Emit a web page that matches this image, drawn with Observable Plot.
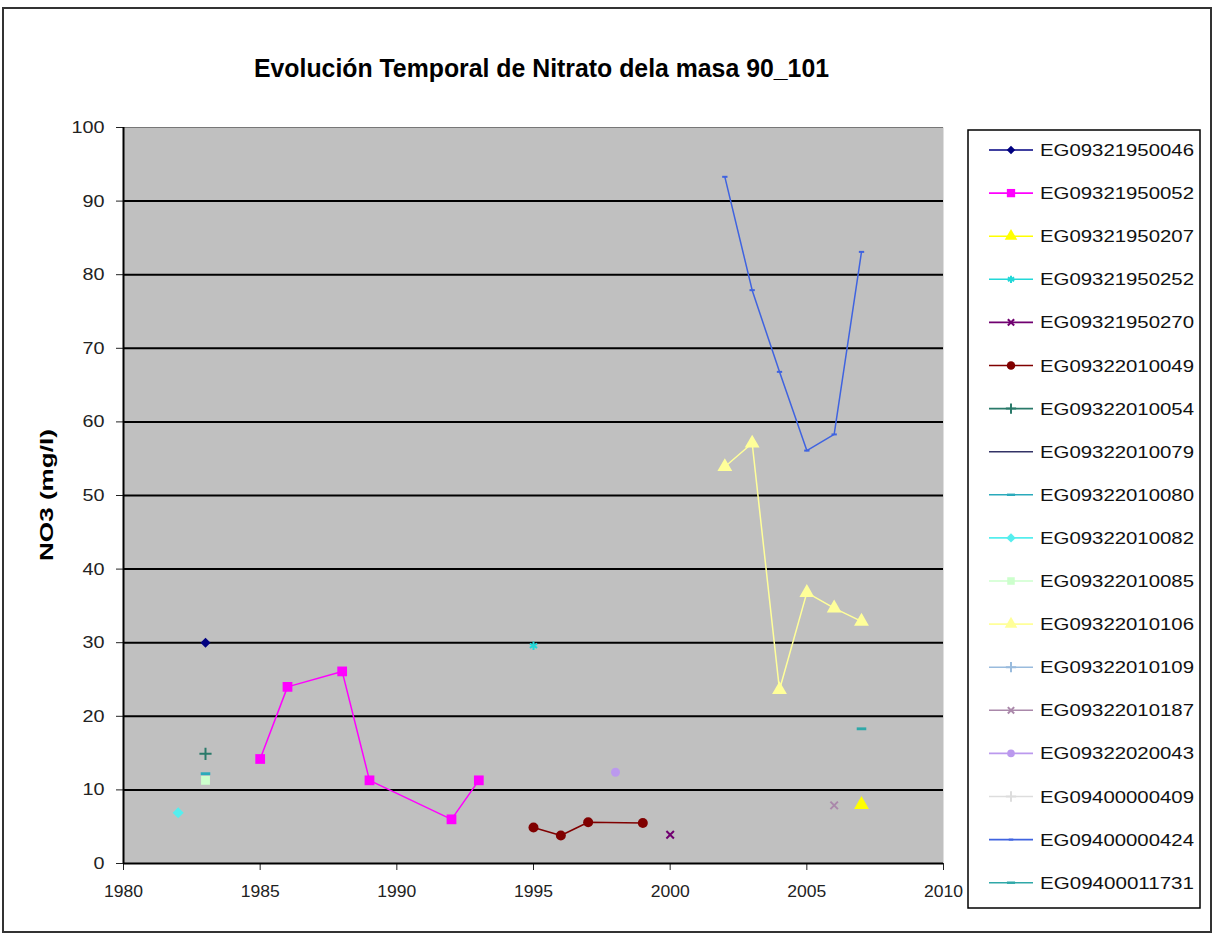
<!DOCTYPE html>
<html><head><meta charset="utf-8">
<script src="https://cdn.jsdelivr.net/npm/d3@7"></script>
<script src="https://cdn.jsdelivr.net/npm/@observablehq/plot@0.6"></script>
<style>
body{margin:0;background:#fff;}
#wrap{position:relative;width:1215px;height:943px;overflow:hidden;background:#fff;}
#frame{position:absolute;left:2px;top:7px;width:1206px;height:922px;border:2px solid #333;}
.abs{position:absolute;left:0;top:0;}
</style></head><body>
<div id="wrap"><div id="frame"></div></div>
<script>
// ---- data ----
const titleText = "Evolución Temporal de Nitrato dela masa 90_101";
const yLabel = "NO3 (mg/l)";
const xTicks = [1980, 1985, 1990, 1995, 2000, 2005, 2010];
const yTicks = [0, 10, 20, 30, 40, 50, 60, 70, 80, 90, 100];

const seriesNames = ["EG09321950046","EG09321950052","EG09321950207","EG09321950252","EG09321950270",
  "EG09322010049","EG09322010054","EG09322010079","EG09322010080","EG09322010082","EG09322010085",
  "EG09322010106","EG09322010109","EG09322010187","EG09322020043","EG09400000409","EG09400000424","EG09400011731"];
const seriesColors = ["#000080","#ff00ff","#ffff00","#22d8d8","#700070",
  "#800000","#2a7a6a","#333366","#2aaabb","#55eeee","#ccffcc",
  "#ffff99","#99bbdd","#aa88aa","#bb99ee","#dddddd","#3f63e0","#2fa8a8"];
const seriesSymbols = ["diamond","square","triangle","asterisk","times",
  "circle","plus","none","dash","diamond","square",
  "triangle","plus","times","circle","plus","dash","dash"];
const seriesMarkerR = [4.5,5.5,5.5,4,3.5, 5,4,0,4.5,5,5, 5.5,4,3.5,4.5,4,2.5,4.5];

const years_046 = [1983];                          const no3_046 = [30];
const years_052 = [1985,1986,1988,1989,1992,1993]; const no3_052 = [14.2,24,26.1,11.3,6,11.3];
const years_207 = [2007];                          const no3_207 = [8];
const years_252 = [1995];                          const no3_252 = [29.6];
const years_270 = [2000];                          const no3_270 = [3.9];
const years_10049 = [1995,1996,1997,1999];         const no3_10049 = [4.9,3.8,5.6,5.5];
const years_10054 = [1983];                        const no3_10054 = [14.9];
const years_10080 = [1983];                        const no3_10080 = [12.2];
const years_10082 = [1982];                        const no3_10082 = [6.9];
const years_10085 = [1983];                        const no3_10085 = [11.3];
const years_10106 = [2002,2003,2004,2005,2006,2007]; const no3_10106 = [53.9,57.1,23.6,36.8,34.7,32.9];
const years_10187 = [2006];                        const no3_10187 = [7.9];
const years_20043 = [1998];                        const no3_20043 = [12.4];
const years_424 = [2002,2003,2004,2005,2006,2007]; const no3_424 = [93.3,77.9,66.8,56.1,58.3,83.1];
const years_11731 = [2007];                        const no3_11731 = [18.3];

// ---- build tables ----
const seriesData = [
  ["EG09321950046", years_046, no3_046], ["EG09321950052", years_052, no3_052],
  ["EG09321950207", years_207, no3_207], ["EG09321950252", years_252, no3_252],
  ["EG09321950270", years_270, no3_270], ["EG09322010049", years_10049, no3_10049],
  ["EG09322010054", years_10054, no3_10054], ["EG09322010080", years_10080, no3_10080],
  ["EG09322010082", years_10082, no3_10082], ["EG09322010085", years_10085, no3_10085],
  ["EG09322010106", years_10106, no3_10106], ["EG09322010187", years_10187, no3_10187],
  ["EG09322020043", years_20043, no3_20043], ["EG09400000424", years_424, no3_424],
  ["EG09400011731", years_11731, no3_11731]
];

const dashSymbol = {draw(ctx, size) { const w = Math.sqrt(size) * 1.2, h = Math.max(2, w * 0.3); ctx.rect(-w / 2, -h / 2, w, h); }};
const symbolMap = {diamond: d3.symbolDiamond2, square: d3.symbolSquare, triangle: d3.symbolTriangle,
  asterisk: d3.symbolAsterisk, times: d3.symbolTimes, circle: d3.symbolCircle, plus: d3.symbolPlus, dash: dashSymbol};
const strokeSymbols = new Set(["asterisk","times","plus"]);

const marks = [
  Plot.frame({fill: "#c0c0c0", stroke: null}),
  Plot.ruleY(yTicks.filter(t => t > 0 && t < 100), {stroke: "#000", strokeWidth: 2}),
  Plot.ruleY([100], {stroke: "#777", strokeWidth: 1}),
  Plot.axisX({ticks: xTicks, tickFormat: d => String(d), tickSize: 7, tickPadding: 14, fontSize: 17, label: null}),
  Plot.axisY({ticks: yTicks, tickFormat: d => String(d), tickSize: 7, tickPadding: 12, fontSize: 17, label: null}),
  Plot.ruleX([1980], {stroke: "#000", strokeWidth: 2}),
  Plot.ruleY([0], {stroke: "#000", strokeWidth: 2})
];
for (const [name, yrs, vals] of seriesData) {
  const i = seriesNames.indexOf(name);
  const rows = yrs.map((y, k) => ({year: y, no3: vals[k]}));
  const color = seriesColors[i];
  if (rows.length > 1) marks.push(Plot.line(rows, {x: "year", y: "no3", stroke: color, strokeWidth: 1.5}));
  const sym = seriesSymbols[i];
  if (sym !== "none") {
    const isStroke = strokeSymbols.has(sym);
    marks.push(Plot.dot(rows, {x: "year", y: "no3", symbol: symbolMap[sym], r: seriesMarkerR[i],
      fill: isStroke ? "none" : color, stroke: isStroke ? color : "none", strokeWidth: isStroke ? 2 : 0}));
  }
}

const chart = Plot.plot({
  width: 960, height: 910,
  marginLeft: 123, marginRight: 17, marginTop: 127, marginBottom: 47,
  x: {domain: [1980, 2010]},
  y: {domain: [0, 100]},
  style: {fontFamily: "'Liberation Sans', Arial, sans-serif", fontSize: "17px", color: "#222", background: "transparent", overflow: "visible"},
  marks
});
chart.classList.add("abs");
// widen tick labels like the reference's stretched glyphs
d3.select(chart).selectAll("g[aria-label='x-axis tick label'] text")
  .attr("textLength", 39).attr("lengthAdjust", "spacingAndGlyphs");
d3.select(chart).selectAll("g[aria-label='y-axis tick label'] text")
  .each(function() { const n = this.textContent.length; d3.select(this).attr("textLength", n * 11).attr("lengthAdjust", "spacingAndGlyphs"); });
document.getElementById("wrap").appendChild(chart);

// ---- overlay: title, y label, legend ----
const svg = d3.select("#wrap").append("svg").attr("class", "abs").attr("width", 1215).attr("height", 943)
  .style("pointer-events", "none");
svg.append("text").attr("x", 254).attr("y", 77).attr("textLength", 575).attr("lengthAdjust", "spacingAndGlyphs")
  .style("font-family", "'Liberation Sans', Arial").style("font-weight", "bold")
  .style("font-size", "25px").attr("fill", "#000").text(titleText);
svg.append("text").attr("transform", "translate(53,561) rotate(-90)").attr("textLength", 132).attr("lengthAdjust", "spacingAndGlyphs")
  .style("font-family", "'Liberation Sans', Arial").style("font-weight", "bold").style("font-size", "18px")
  .attr("fill", "#000").text(yLabel);

svg.append("rect").attr("x", 968).attr("y", 130).attr("width", 232).attr("height", 778)
  .attr("fill", "#fff").attr("stroke", "#000").attr("stroke-width", 1.5);
seriesNames.forEach((name, i) => {
  const y = 150 + i * 43.1;
  const color = seriesColors[i];
  svg.append("line").attr("x1", 989).attr("x2", 1033).attr("y1", y).attr("y2", y)
    .attr("stroke", color).attr("stroke-width", 1.6);
  const sym = seriesSymbols[i];
  if (sym !== "none") {
    const r = seriesMarkerR[i] * 0.85;
    const isStroke = strokeSymbols.has(sym);
    svg.append("path").attr("transform", `translate(1011,${y})`)
      .attr("d", d3.symbol(symbolMap[sym], Math.PI * r * r)())
      .attr("fill", isStroke ? "none" : color).attr("stroke", isStroke ? color : "none").attr("stroke-width", 2);
  }
  svg.append("text").attr("x", 1040).attr("y", y + 6).attr("textLength", 154).attr("lengthAdjust", "spacingAndGlyphs")
    .style("font-family", "'Liberation Sans', Arial").style("font-size", "16.5px").attr("fill", "#111").text(name);
});
</script>
</body></html>
